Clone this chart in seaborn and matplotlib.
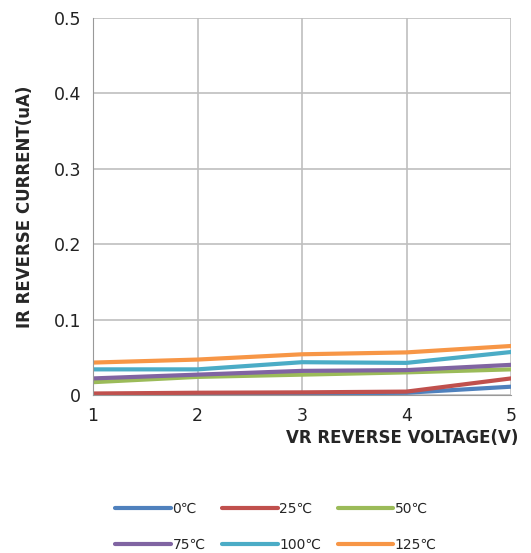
import matplotlib
matplotlib.use("Agg")
import matplotlib.pyplot as plt
import numpy as np
import pandas as pd
import seaborn as sns

voltage = [1, 2, 3, 4, 5]
temps = ["0\u2103", "25\u2103", "50\u2103", "75\u2103", "100\u2103", "125\u2103"]
ir_0 = [0.001, 0.001, 0.002, 0.003, 0.011]
ir_25 = [0.002, 0.003, 0.0035, 0.0045, 0.022]
ir_50 = [0.017, 0.024, 0.027, 0.030, 0.034]
ir_75 = [0.022, 0.027, 0.032, 0.033, 0.040]
ir_100 = [0.034, 0.034, 0.0435, 0.0426, 0.057]
ir_125 = [0.043, 0.047, 0.054, 0.0565, 0.065]
colors = ["#4F81BD", "#C0504D", "#9BBB59", "#8064A2", "#4BACC6", "#F79646"]

series = [ir_0, ir_25, ir_50, ir_75, ir_100, ir_125]
df = pd.concat([pd.DataFrame({"V": voltage, "I": s, "T": t}) for s, t in zip(series, temps)])

sns.set_style("whitegrid")
plt.rcParams["font.family"] = ["DejaVu Sans"]

fig = plt.figure(figsize=(5.31, 5.53), dpi=100)
ax = fig.add_axes([93 / 531, 1 - 395 / 553, 418 / 531, 377 / 553])

sns.lineplot(data=df, x="V", y="I", hue="T", hue_order=temps, palette=colors,
             linewidth=3, ax=ax, legend=False)

ax.set_xlim(1, 5)
ax.set_ylim(0, 0.5)
ax.set_xticks([1, 2, 3, 4, 5])
ax.set_yticks([0, 0.1, 0.2, 0.3, 0.4, 0.5])
ax.set_yticklabels(["0", "0.1", "0.2", "0.3", "0.4", "0.5"])
ax.grid(True, color="#BFBFBF", linewidth=1.2)
for side in ["top", "right"]:
    ax.spines[side].set_visible(False)
for side in ["left", "bottom"]:
    ax.spines[side].set_color("#999999")
ax.tick_params(axis="both", length=5, color="#999999", labelsize=12.5, labelcolor="#222222")

ax.set_xlabel("")
ax.set_ylabel("IR REVERSE CURRENT(uA)", fontsize=12, fontweight="bold", labelpad=14)
fig.text(0.976, 1 - 438 / 553, "VR REVERSE VOLTAGE(V)", ha="right", va="center",
         fontsize=12, fontweight="bold")

handles = [plt.Line2D([], [], color=c, linewidth=3) for c in colors]
order = [0, 3, 1, 4, 2, 5]
fig.legend([handles[i] for i in order], [temps[i] for i in order], ncol=3,
           loc="center", bbox_to_anchor=(0.52, 1 - 527 / 553), frameon=False,
           handlelength=4, handletextpad=0.1, columnspacing=1.2, fontsize=10,
           labelspacing=1.6)

fig.savefig("out.png", dpi=100)
